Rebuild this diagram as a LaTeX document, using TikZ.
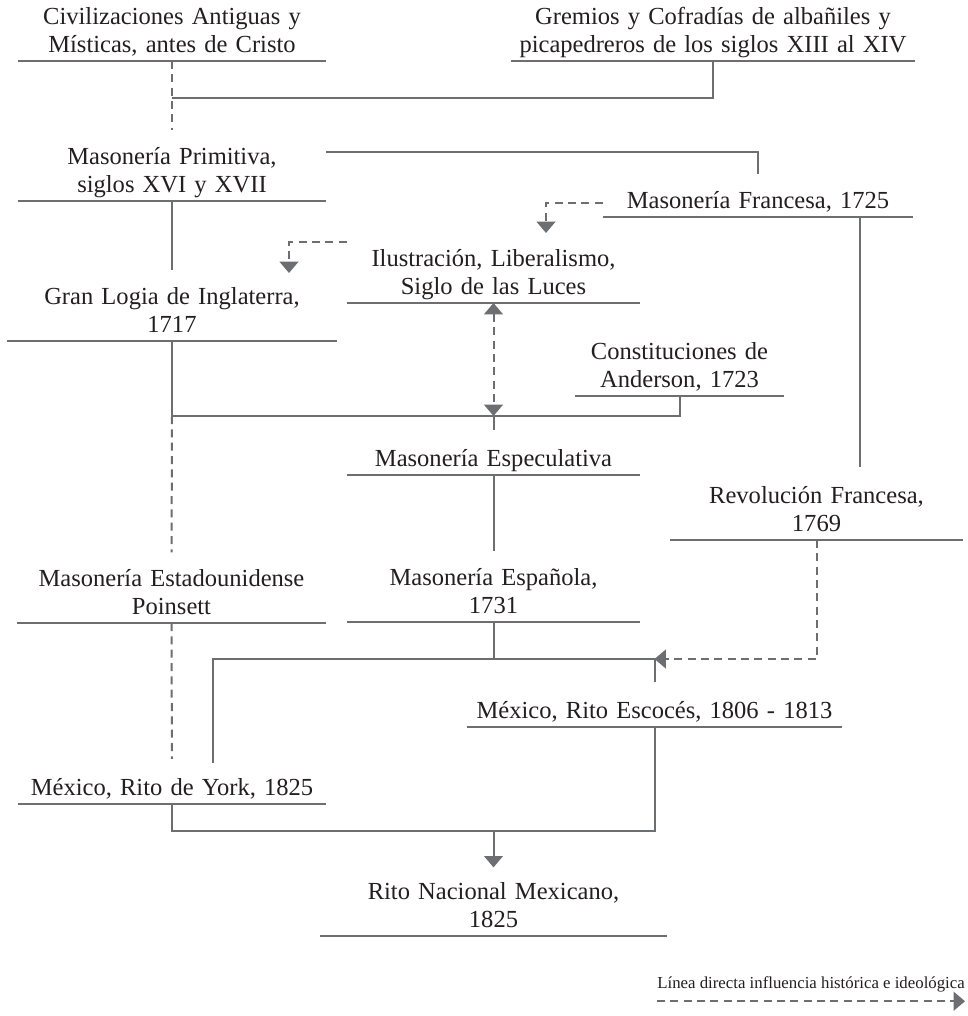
\documentclass[tikz,border=0pt]{standalone}
\usepackage{fontspec}
\setmainfont{Liberation Serif}
\usetikzlibrary{arrows.meta}
\definecolor{lc}{HTML}{6D6E71}
\definecolor{tc}{HTML}{231F20}
\begin{document}
\begin{tikzpicture}[x=0.75pt,y=-0.75pt,
  lbl/.style={font=\fontsize{18.4}{21}\selectfont, text=tc, align=center,
    inner xsep=0pt, inner ysep=0pt, anchor=south, execute at end node=\strut},
  ul/.style={draw=lc, line width=1.5pt},
  ln/.style={draw=lc, line width=1.5pt},
  dsh/.style={draw=lc, line width=1.5pt, dash pattern=on 6pt off 4pt},
  tip/.style={-{Triangle[width=14pt,length=8.5pt]}},
  bitip/.style={{Triangle[width=14pt,length=8.5pt]}-{Triangle[width=14pt,length=8.5pt]}},
  totop/.style={shorten >=12.5pt},
]
\fill[white] (0,0) rectangle (967,1016);
\useasboundingbox (0,0) rectangle (967,1016);

% nodes
\node[lbl, text width=231pt] (civ) at (172,61) {Civilizaciones Antiguas y\\Místicas, antes de Cristo};
\node[lbl, text width=303pt] (grem) at (713,61) {Gremios y Cofradías de albañiles y\\picapedreros de los siglos XIII al XIV};
\node[lbl, text width=231pt] (prim) at (172,201) {Masonería Primitiva,\\siglos XVI y XVII};
\node[lbl, text width=232.5pt] (fran) at (758,217) {Masonería Francesa, 1725};
\node[lbl, text width=219.75pt] (ilus) at (493.5,303) {Ilustración, Liberalismo,\\Siglo de las Luces};
\node[lbl, text width=247.5pt] (gran) at (172,341) {Gran Logia de Inglaterra,\\1717};
\node[lbl, text width=156.75pt] (const) at (679.5,396) {Constituciones de\\Anderson, 1723};
\node[lbl, text width=219.75pt] (espec) at (493.5,475) {Masonería Especulativa};
\node[lbl, text width=219.75pt] (rev) at (816.5,540) {Revolución Francesa,\\1769};
\node[lbl, text width=231.75pt] (estad) at (171.5,623) {Masonería Estadounidense\\Poinsett};
\node[lbl, text width=219.75pt] (espa) at (493.5,622) {Masonería Española,\\1731};
\node[lbl, text width=281.25pt] (esco) at (654.5,727) {México, Rito Escocés, 1806 - 1813};
\node[lbl, text width=231pt] (york) at (172,804) {México, Rito de York, 1825};
\node[lbl, text width=260.25pt] (nac) at (493.5,936) {Rito Nacional Mexicano,\\1825};
\node[font=\fontsize{12.6}{14}\selectfont, text=tc, inner sep=0pt, anchor=base east] (leg) at (965,988) {Línea directa influencia histórica e ideológica};

\foreach \n in {civ,grem,prim,fran,ilus,gran,const,espec,rev,estad,espa,esco,york,nac}
  \draw[ul] (\n.south west) -- (\n.south east);

% junctions and corners
\coordinate (j1) at (172,98);
\coordinate (j2) at (172,416);
\coordinate (j3) at (493.5,416);
\coordinate (j4) at (493.5,659);
\coordinate (j6) at (654.5,659);
\coordinate (j7) at (172,831);
\coordinate (j8) at (493.5,831);
\coordinate (c1) at (546,233);
\coordinate (c2) at (289,273);
\coordinate (c4) at (213,763);
\coordinate (c5) at (860,0);

% connectors
\draw[dsh, totop] (civ.south) -- (prim.north);
\draw[ln] (grem.south) |- (j1);
\draw[ln] ([yshift=-4pt]prim.north east) -| ([yshift=11pt]fran.north);
\draw[dsh, tip] (fran.west) -| (c1);
\draw[dsh, tip] ([yshift=5pt]ilus.north west) -| (c2);
\draw[ln, totop] (prim.south) -- (gran.north);
\draw[ln] (gran.south) -- (j2) -| (const.south);
\draw[dsh, bitip] (ilus.south) -- (j3);
\draw[ln, totop] (j3) -- (espec.north);
\draw[dsh, totop] (j2) -- (estad.north);
\draw[ln, totop] (espec.south) -- (espa.north);
\draw[ln] (espa.south) -- (j4);
\draw[ln, totop] (c4) |- (j6) -- (esco.north);
\draw[dsh, tip] (rev.south) |- (j6);
\draw[ln, shorten >=14pt] (fran.south -| c5) -- (rev.north -| c5);
\draw[dsh, totop] (estad.south) -- (york.north);
\draw[ln] (york.south) -- (j7) -| (esco.south);
\draw[ln, tip, shorten >=11pt] (j8) -- (nac.north);

% legend
\draw[dsh, tip] ([yshift=-7pt]leg.south west) -- ([yshift=-7pt]leg.south east);
\end{tikzpicture}
\end{document}
